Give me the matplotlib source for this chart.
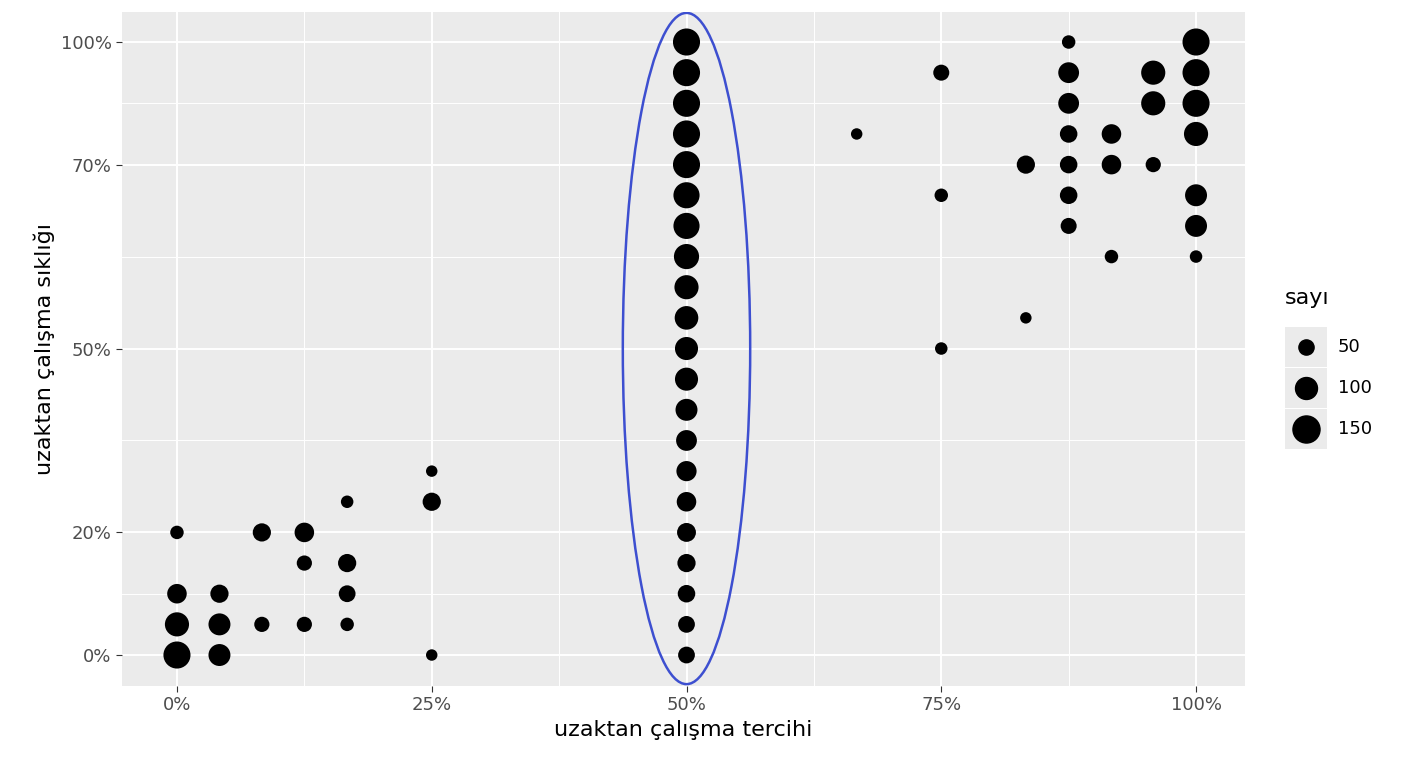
import matplotlib
matplotlib.use("Agg")
import matplotlib.pyplot as plt
from matplotlib.patches import Ellipse, Rectangle
from matplotlib.lines import Line2D

# x: remote work preference (%), y: frequency step index (0..20), n: count
x_vals = ([0]*4 + [4.17]*3 + [8.33]*2 + [12.5]*3 + [16.7]*4 + [25]*3 + [50]*21
          + [66.7] + [75]*3 + [83.3]*2 + [87.5]*7 + [91.7]*3 + [95.8]*3 + [100]*7)
y_idx = ([0, 1, 2, 4] + [0, 1, 2] + [1, 4] + [1, 3, 4] + [1, 2, 3, 5] + [0, 5, 6]
         + list(range(21))
         + [17] + [10, 15, 19] + [11, 16] + [14, 15, 16, 17, 18, 19, 20]
         + [13, 16, 17] + [16, 18, 19] + [13, 14, 15, 17, 18, 19, 20])
counts = ([150, 120, 80, 40] + [100, 100, 70] + [50, 70] + [50, 50, 80] + [40, 60, 70, 35]
          + [30, 70, 30]
          + [60, 60, 65, 70, 75, 80, 85, 90, 100, 110, 110, 115, 120, 130, 140, 140,
             150, 150, 150, 150, 150]
          + [30] + [35, 40, 55] + [30, 70] + [55, 65, 65, 65, 90, 90, 40]
          + [40, 80, 80] + [50, 120, 120] + [35, 100, 100, 120, 150, 150, 150])

x_ticks = [0, 25, 50, 75, 100]
x_labels = ["0%", "25%", "50%", "75%", "100%"]
y_ticks = [0, 4, 10, 16, 20]
y_labels = ["0%", "20%", "50%", "70%", "100%"]
legend_vals = [50, 100, 150]


def size(v):
    return 2.6 * v - 10


fig = plt.figure(figsize=(14.08, 7.68), dpi=100)
ax = fig.add_axes([0.0866, 0.1068, 0.7976, 0.8776])
ax.set_facecolor("#EBEBEB")
for s in ax.spines.values():
    s.set_visible(False)

ax.set_xlim(-5.4, 104.8)
ax.set_ylim(-1.01, 20.98)
ax.set_xticks(x_ticks)
ax.set_xticklabels(x_labels)
ax.set_yticks(y_ticks)
ax.set_yticklabels(y_labels)
ax.set_xticks([12.5, 37.5, 62.5, 87.5], minor=True)
ax.set_yticks([2, 7, 13, 18], minor=True)
ax.grid(which="major", color="white", linewidth=1.4)
ax.grid(which="minor", color="white", linewidth=0.7)
ax.set_axisbelow(True)
ax.tick_params(which="both", length=4, color="#333333", labelsize=13, labelcolor="#4D4D4D")
ax.tick_params(which="minor", length=0)

ax.scatter(x_vals, y_idx, s=[size(c) for c in counts], color="black", zorder=3, linewidths=0)

ax.add_patch(Ellipse((50, 10), 12.5, 21.9, fill=False, edgecolor="#3D4FD0", linewidth=1.8, zorder=4))

ax.set_xlabel("uzaktan çalışma tercihi", fontsize=16, labelpad=4)
ax.set_ylabel("uzaktan çalışma sıklığı", fontsize=16, labelpad=4)

# legend
fig.text(1285 / 1408, 1 - 298 / 768, "sayı", fontsize=16, va="center", ha="left")
for i, v in enumerate(legend_vals):
    yc = 1 - (347 + 41 * i) / 768
    fig.patches.append(Rectangle((1285 / 1408, yc - 20 / 768), 42 / 1408, 40 / 768,
                                 transform=fig.transFigure, facecolor="#EBEBEB",
                                 edgecolor="none"))
    fig.add_artist(Line2D([1306 / 1408], [yc], marker="o", color="black", linestyle="none",
                          markersize=size(v) ** 0.5, transform=fig.transFigure))
    fig.text(1338 / 1408, yc, str(v), fontsize=13, va="center", ha="left")

fig.savefig("out.png", dpi=100)
